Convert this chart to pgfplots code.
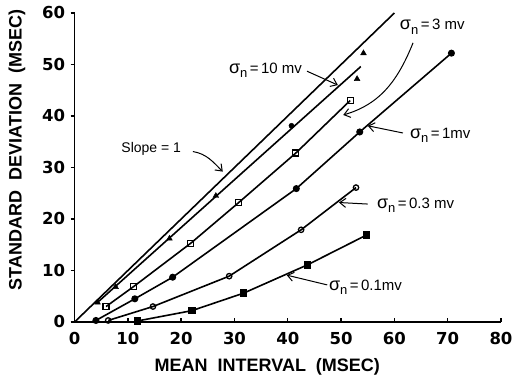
\documentclass[border=0pt]{standalone}
\usepackage{fontspec}
\setmainfont{Liberation Sans}
\newfontfamily\tickfont{DejaVu Sans}
\usepackage{pgfplots}
\pgfplotsset{compat=1.18}
\usetikzlibrary{arrows.meta}
\newcommand{\sig}[1]{{\fontsize{18}{18}\selectfont σ}\raisebox{-0.55ex}{\fontsize{13}{13}\selectfont n}\,=\,#1}
\tikzset{lab/.style={font=\fontsize{15}{17}\selectfont, inner sep=0pt},
         arr/.style={line width=1pt, -{Straight Barb[length=6pt,width=9pt]}}}
\begin{document}
\begin{tikzpicture}
\useasboundingbox (-74.6pt,-57pt) rectangle (440.4pt,322pt);
\begin{axis}[
  at={(0pt,0pt)}, anchor=south west,
  scale only axis, width=426.4pt, height=309pt,
  xmin=0, xmax=80, ymin=0, ymax=60,
  axis lines=left,
  axis line style={-, line width=1.6pt},
  xtick={0,10,...,80}, ytick={0,10,...,60},
  tick align=outside, major tick length=4pt,
  tick style={line width=1.4pt, black},
  x tick style={yshift=4pt},
  tick label style={font=\tickfont\bfseries\fontsize{16.5}{16.5}\selectfont},
  /pgf/number format/assume math mode=true,
  xticklabel style={yshift=-3pt},
  yticklabel style={xshift=-2pt},
  xlabel={MEAN\ \ INTERVAL\ \ (MSEC)},
  ylabel={STANDARD\ \ DEVIATION\ \ (MSEC)},
  label style={font=\bfseries\fontsize{18}{18}\selectfont},
  xlabel style={at={(axis description cs:0.452,-0.146)}, anchor=center},
  ylabel style={at={(axis description cs:-0.135,0.557)}, anchor=center},
  clip=false,
]
% slope = 1
\addplot[line width=1.6pt, no marks] coordinates {(0,0) (60,60)};
% 10 mv
\addplot[line width=1.6pt, no marks] coordinates {(4.3,3.8) (53.7,49.6)};
\addplot[only marks, mark=triangle*, mark size=3.3pt] coordinates {(4.3,3.8) (7.7,6.8) (17.8,16.2) (26.5,24.5) (53.0,47.2) (54.2,52.2)};
\addplot[only marks, mark=*, mark size=2.6pt] coordinates {(40.7,38.1)};
% 3 mv
\addplot[line width=1.6pt, mark=square, mark size=3pt, mark options={line width=1.3pt, fill=white}] coordinates {(5.9,3.0) (11.1,6.9) (21.8,15.3) (30.8,23.2) (41.5,32.8) (51.7,43.0)};
% 1 mv
\addplot[line width=1.6pt, mark=*, mark size=2.7pt] coordinates {(4.0,0.3) (11.3,4.5) (18.4,8.7) (41.6,25.9) (53.5,36.9) (70.7,52.2)};
% 0.3 mv
\addplot[line width=1.6pt, mark=o, mark size=2.7pt, mark options={line width=1.3pt, fill=white}] coordinates {(6.3,0.3) (14.7,3.0) (29.0,8.9) (42.5,17.9) (52.8,26.1)};
% 0.1 mv
\addplot[line width=1.6pt, mark=square*, mark size=3pt] coordinates {(11.8,0.2) (22.0,2.2) (31.7,5.6) (43.7,11.1) (54.8,16.9)};
% annotations
\node[lab, anchor=east] at (axis cs:42.7,48.9) {\sig{10 mv}};
\draw[arr] (axis cs:43.6,48.7) -- (axis cs:49.4,46.0);
\node[lab, anchor=west] at (axis cs:61.0,57.3) {\sig{3 mv}};
\draw[arr] (axis cs:63.5,54.2) to[out=-112,in=16] (axis cs:50.4,40.2);
\node[lab, anchor=west] at (axis cs:62.9,36.3) {\sig{1mv}};
\draw[arr] (axis cs:61.6,36.7) -- (axis cs:55.0,38.1);
\node[lab, anchor=west] at (axis cs:56.7,22.7) {\sig{0.3 mv}};
\draw[arr] (axis cs:55.0,22.9) -- (axis cs:49.6,23.2);
\node[lab, anchor=west] at (axis cs:47.7,6.8) {\sig{0.1mv}};
\draw[arr] (axis cs:47.4,7.2) -- (axis cs:39.8,9.1);
\node[lab, anchor=east, font=\fontsize{14}{16}\selectfont] at (axis cs:20.0,33.6) {Slope = 1};
\draw[arr] (axis cs:22.2,33.1) to[out=-10,in=135] (axis cs:27.8,29.2);
\end{axis}
\end{tikzpicture}
\end{document}
